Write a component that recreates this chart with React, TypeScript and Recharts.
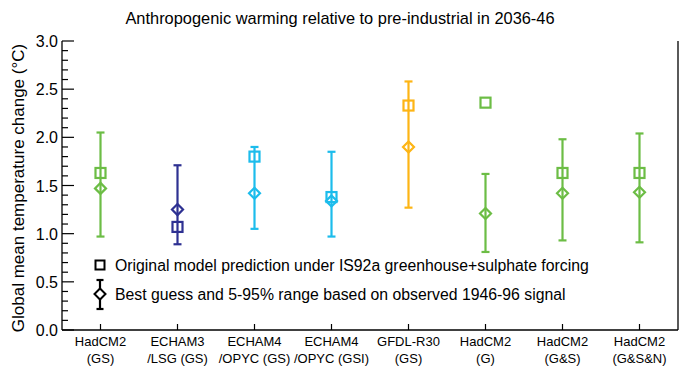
import { ScatterChart, Scatter, XAxis, YAxis, ErrorBar } from 'recharts';

const modelNames = ['HadCM2', 'ECHAM3', 'ECHAM4', 'ECHAM4', 'GFDL-R30', 'HadCM2', 'HadCM2', 'HadCM2'];
const modelRuns = ['(GS)', '/LSG (GS)', '/OPYC (GS)', '/OPYC (GSI)', '(GS)', '(G)', '(G&S)', '(G&S&N)'];
const modelColors = ['#6cbd45', '#2e3192', '#1cbcec', '#1cbcec', '#fdb515', '#6cbd45', '#6cbd45', '#6cbd45'];

// original model prediction (squares)
const predicted = [1.63, 1.07, 1.8, 1.38, 2.33, 2.36, 1.63, 1.63];
// best guess + 5-95% range from observed signal (diamonds)
const bestGuess = [1.47, 1.25, 1.42, 1.34, 1.9, 1.21, 1.42, 1.43];
const rangeLow = [0.97, 0.89, 1.05, 0.97, 1.27, 0.81, 0.93, 0.91];
const rangeHigh = [2.05, 1.71, 1.9, 1.85, 2.58, 1.62, 1.98, 2.04];

const xTicks = [0, 1, 2, 3, 4, 5, 6, 7];
const yTicks = Array.from({ length: 31 }, (_, i) => i / 10);

const FONT = '"Liberation Sans", Arial, Helvetica, sans-serif';

const squareData = predicted.map((v, i) => ({ x: i, y: v, color: modelColors[i] }));
const diamondData = bestGuess.map((v, i) => ({
  x: i,
  y: v,
  err: [v - rangeLow[i], rangeHigh[i] - v],
  color: modelColors[i],
}));

const isMajor = (v: number) => Math.round(v * 10) % 5 === 0;

function Square(p: any) {
  return <rect x={p.cx - 5} y={p.cy - 5} width={10} height={10} fill="none" stroke={p.payload.color} strokeWidth={2.2} />;
}

function Diamond(p: any) {
  const r = 5.5;
  const { cx, cy } = p;
  return (
    <path
      d={`M${cx},${cy - r}L${cx + r},${cy}L${cx},${cy + r}L${cx - r},${cy}Z`}
      fill="none"
      stroke={p.payload.color}
      strokeWidth={2.2}
    />
  );
}

function BottomTick({ x, y, payload }: any) {
  return (
    <g>
      <line x1={x} x2={x} y1={y} y2={y - 6} stroke="#000" strokeWidth={1.2} />
      <text x={x} y={y + 16} textAnchor="middle" fontSize={13} fontFamily={FONT} fill="#000">
        <tspan x={x}>{modelNames[payload.value]}</tspan>
        <tspan x={x} dy={17}>{modelRuns[payload.value]}</tspan>
      </text>
    </g>
  );
}

function TopTick({ x, y }: any) {
  return <line x1={x} x2={x} y1={y} y2={y + 5} stroke="#000" strokeWidth={1.2} />;
}

function LeftTick({ x, y, payload }: any) {
  const major = isMajor(payload.value);
  return (
    <g>
      <line x1={x} x2={x + (major ? 12 : 6)} y1={y} y2={y} stroke="#000" strokeWidth={1.2} />
      {major && (
        <text x={x - 4} y={y + 6} textAnchor="end" fontSize={16} fontFamily={FONT} fill="#000">
          {payload.value.toFixed(1)}
        </text>
      )}
    </g>
  );
}

function RightTick({ x, y, payload }: any) {
  const major = isMajor(payload.value);
  return <line x1={x} x2={x - (major ? 12 : 6)} y1={y} y2={y} stroke="#000" strokeWidth={1.2} />;
}

export default function App() {
  return (
    <div style={{ position: 'absolute', left: 0, top: 0, width: 679, height: 370, background: '#fff', fontFamily: FONT }}>
      <ScatterChart width={679} height={370} margin={{ top: 41, right: 0, bottom: 0, left: 0 }}>
        <XAxis
          type="number"
          dataKey="x"
          domain={[-0.5, 7.5]}
          ticks={xTicks}
          interval={0}
          height={40}
          tickSize={0}
          tickMargin={0}
          tickLine={false}
          tick={<BottomTick />}
          axisLine={{ stroke: '#000', strokeWidth: 1.3 }}
        />
        <XAxis
          xAxisId="top"
          orientation="top"
          type="number"
          dataKey="x"
          domain={[-0.5, 7.5]}
          ticks={xTicks}
          interval={0}
          height={0}
          tickSize={0}
          tickMargin={0}
          tickLine={false}
          tick={<TopTick />}
          axisLine={{ stroke: '#000', strokeWidth: 1.3 }}
        />
        <YAxis
          type="number"
          dataKey="y"
          domain={[0, 3]}
          ticks={yTicks}
          interval={0}
          width={62}
          tickSize={0}
          tickMargin={0}
          tickLine={false}
          tick={<LeftTick />}
          axisLine={{ stroke: '#000', strokeWidth: 1.3 }}
        />
        <YAxis
          yAxisId="right"
          orientation="right"
          type="number"
          dataKey="y"
          domain={[0, 3]}
          ticks={yTicks}
          interval={0}
          width={1}
          tickSize={0}
          tickMargin={0}
          tickLine={false}
          tick={<RightTick />}
          axisLine={{ stroke: '#000', strokeWidth: 1.3 }}
        />
        {diamondData.map((d, i) => (
          <Scatter key={`g${i}`} data={[d]} shape={<Diamond />} isAnimationActive={false}>
            <ErrorBar dataKey="err" direction="y" width={4} strokeWidth={2.2} stroke={d.color} isAnimationActive={false} />
          </Scatter>
        ))}
        <Scatter data={squareData} shape={<Square />} isAnimationActive={false} />
      </ScatterChart>
      <svg width={679} height={370} style={{ position: 'absolute', left: 0, top: 0, pointerEvents: 'none' }}>
        <text x={340} y={24} textAnchor="middle" fontSize={16.4} fontFamily={FONT} fill="#000">
          Anthropogenic warming relative to pre-industrial in 2036-46
        </text>
        <text transform="translate(24,188) rotate(-90)" textAnchor="middle" fontSize={17} fontFamily={FONT} fill="#000">
          Global mean temperature change (°C)
        </text>
        <rect x={95.5} y={260.5} width={9} height={9} fill="none" stroke="#000" strokeWidth={2} />
        <text x={115} y={271} fontSize={15.8} fontFamily={FONT} fill="#000">
          Original model prediction under IS92a greenhouse+sulphate forcing
        </text>
        <line x1={100} x2={100} y1={280} y2={309} stroke="#000" strokeWidth={2.2} />
        <line x1={96.5} x2={103.5} y1={280} y2={280} stroke="#000" strokeWidth={2.2} />
        <line x1={96.5} x2={103.5} y1={309} y2={309} stroke="#000" strokeWidth={2.2} />
        <path d="M100,288.5L105.5,294L100,299.5L94.5,294Z" fill="#fff" stroke="#000" strokeWidth={2} />
        <text x={115} y={300} fontSize={15.8} fontFamily={FONT} fill="#000">
          Best guess and 5-95% range based on observed 1946-96 signal
        </text>
      </svg>
    </div>
  );
}
